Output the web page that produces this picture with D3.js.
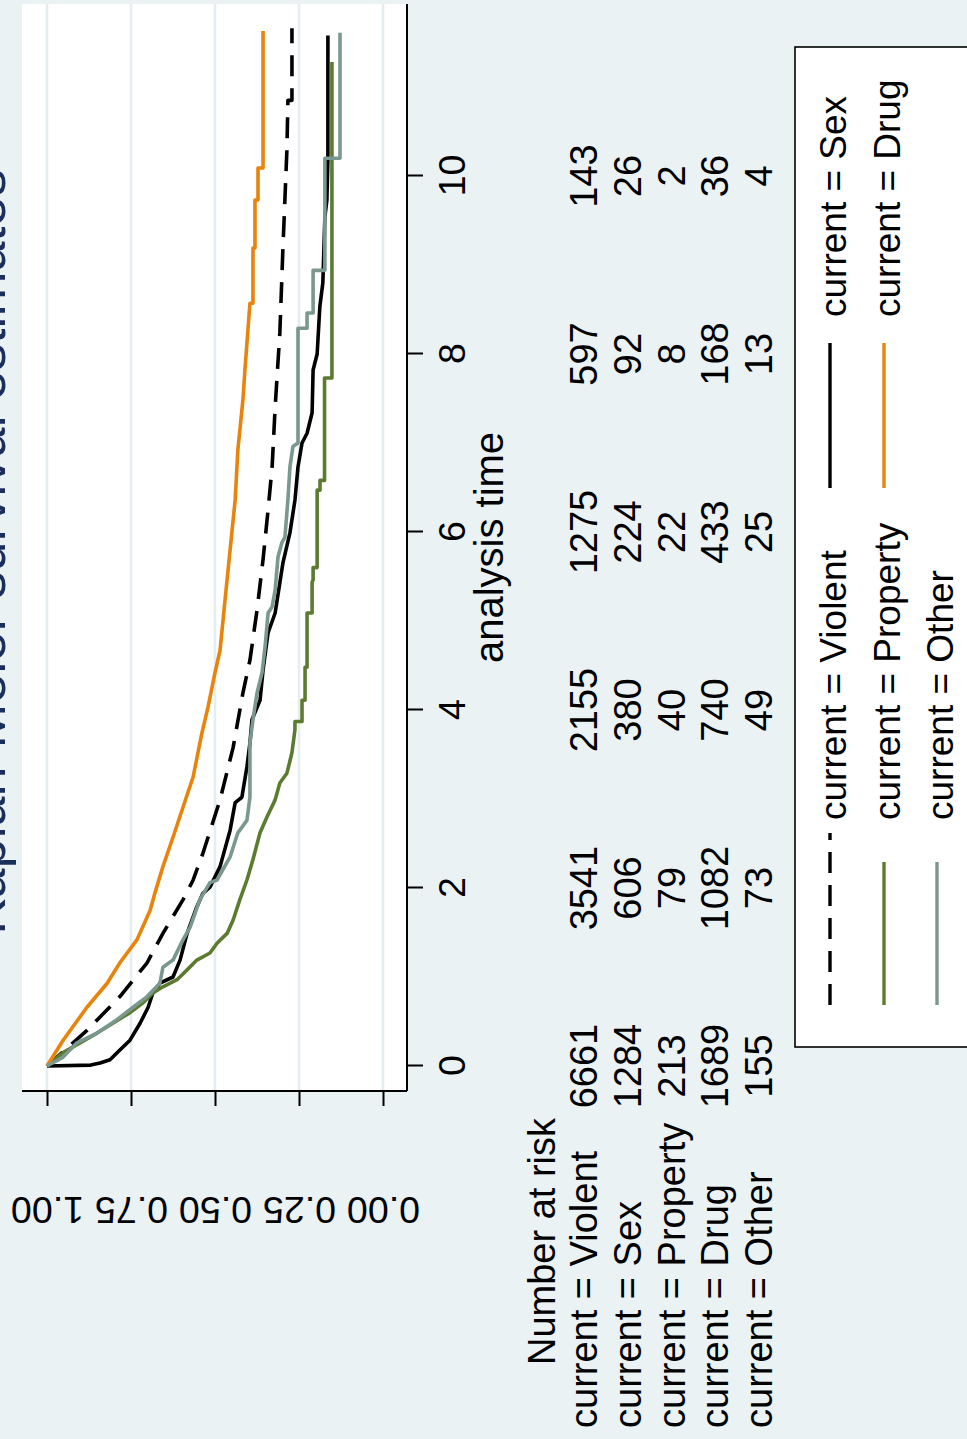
<!DOCTYPE html>
<html>
<head>
<meta charset="utf-8">
<script src="https://cdn.jsdelivr.net/npm/d3@7"></script>
<style>
  body { margin: 0; background: #eaf2f3; }
  text { font-family: "Liberation Sans", Arial, sans-serif; fill: #000; }
</style>
</head>
<body>
<div id="chart"></div>
<script>
// Stata KM plot, drawn upright then turned a quarter turn to match the picture

const timeTicks = [0, 2, 4, 6, 8, 10]
const survTicks = [0, 0.25, 0.5, 0.75, 1]
const groupNames = ["Violent", "Sex", "Property", "Drug", "Other"]

// number at risk at each time tick
const riskTimes = [0, 2, 4, 6, 8, 10]
const riskViolent = [6661, 3541, 2155, 1275, 597, 143]
const riskSex = [1284, 606, 380, 224, 92, 26]
const riskProperty = [213, 79, 40, 22, 8, 2]
const riskDrug = [1689, 1082, 740, 433, 168, 36]
const riskOther = [155, 73, 49, 25, 13, 4]

// [analysis time, survival]
const kmViolent = [[0,1],[0.40,0.881],[0.78,0.783],[1.16,0.702],[1.49,0.655],[1.87,0.595],[2.09,0.565],
  [2.39,0.536],[2.99,0.485],[3.58,0.446],[4.19,0.417],[4.56,0.396],[5.12,0.375],[5.69,0.357],[6.25,0.342],
  [6.73,0.330],[7.40,0.321],[8.24,0.307],[9.17,0.298],[9.73,0.292],[10.29,0.286],[10.85,0.283],
  [10.85,0.271],[11.66,0.271]]
const kmSex = [[0,1],[0.01,0.87],[0.034,0.842],[0.07,0.8125],[0.18,0.783],[0.29,0.753],[0.48,0.723],
  [0.66,0.699],[0.82,0.685],[0.93,0.664],[1.0,0.625],[1.19,0.604],[1.49,0.583],[1.79,0.554],[1.94,0.536],
  [2.01,0.515],[2.24,0.485],[2.65,0.455],[2.96,0.440],[3.02,0.420],[3.36,0.405],[3.63,0.396],[3.89,0.390],
  [4.11,0.366],[4.45,0.357],[4.87,0.342],[5.09,0.321],[5.43,0.307],[5.65,0.298],[5.99,0.277],[6.36,0.262],
  [6.73,0.253],[7.0,0.241],[7.11,0.226],[7.34,0.211],[7.82,0.208],[8.0,0.196],[8.53,0.188],[8.80,0.179],
  [9.54,0.173],[9.73,0.167],[10.18,0.164],[11.58,0.164]]
const kmProperty = [[0,1],[0.15,0.952],[0.26,0.902],[0.37,0.851],[0.48,0.804],[0.60,0.753],[0.71,0.714],
  [0.82,0.685],[0.89,0.655],[0.97,0.613],[1.08,0.583],[1.19,0.554],[1.27,0.515],[1.38,0.494],[1.49,0.464],
  [1.64,0.446],[1.87,0.426],[2.09,0.405],[2.32,0.387],[2.62,0.366],[2.80,0.345],[2.99,0.321],[3.18,0.307],
  [3.29,0.286],[3.52,0.271],[3.78,0.262],[3.87,0.262],[3.87,0.241],[4.11,0.241],[4.11,0.232],[4.48,0.232],
  [4.48,0.226],[5.09,0.226],[5.09,0.211],[5.44,0.211],[5.46,0.208],[5.60,0.208],[5.60,0.196],[6.47,0.196],
  [6.47,0.1875],[6.58,0.1875],[6.58,0.174],[7.73,0.174],[7.73,0.152],[11.28,0.152]]
const kmDrug = [[0,1],[0.29,0.952],[0.66,0.881],[0.93,0.821],[1.16,0.783],[1.42,0.732],[1.75,0.693],
  [1.94,0.679],[2.24,0.655],[2.57,0.625],[2.91,0.595],[3.25,0.565],[3.74,0.539],[4.03,0.521],[4.42,0.5],
  [4.67,0.485],[5.24,0.470],[5.80,0.455],[6.36,0.440],[6.92,0.432],[7.48,0.417],[7.82,0.411],[8.57,0.396],
  [8.57,0.387],[9.19,0.387],[9.19,0.381],[9.73,0.381],[9.73,0.372],[10.09,0.372],[10.09,0.357],[11.63,0.357]]
const kmOther = [[0,1],[0.10,0.952],[0.26,0.911],[0.37,0.851],[0.52,0.792],[0.66,0.744],[0.78,0.702],
  [0.93,0.664],[1.11,0.655],[1.19,0.625],[1.42,0.595],[1.56,0.574],[1.87,0.545],[2.06,0.515],[2.09,0.494],
  [2.35,0.455],[2.62,0.432],[2.76,0.405],[3.02,0.396],[3.63,0.396],[3.89,0.387],[4.19,0.375],[4.42,0.360],
  [4.71,0.351],[5.09,0.342],[5.16,0.330],[5.35,0.321],[5.72,0.3125],[5.88,0.301],[5.94,0.292],[6.36,0.283],
  [6.73,0.277],[6.96,0.268],[7.0,0.253],[8.29,0.253],[8.29,0.226],[8.46,0.226],[8.46,0.208],[8.94,0.208],
  [8.94,0.173],[10.20,0.173],[10.20,0.128],[11.61,0.128]]

const W = 967, H = 1439

const series = [
  { name: "Violent", data: kmViolent, color: "#000", dash: "21,12" },
  { name: "Sex", data: kmSex, color: "#000", dash: null },
  { name: "Property", data: kmProperty, color: "#5b7b30", dash: null },
  { name: "Drug", data: kmDrug, color: "#e8830c", dash: null },
  { name: "Other", data: kmOther, color: "#7a9890", dash: null }
]
const riskRows = [riskViolent, riskSex, riskProperty, riskDrug, riskOther]

const svg = d3.select("#chart").append("svg")
  .attr("width", W).attr("height", H)

svg.append("rect").attr("width", W).attr("height", H).attr("fill", "#eaf2f3")

// unrotated graph is H wide and W tall
const g = svg.append("g").attr("transform", `translate(0,${H}) rotate(-90)`)

const plotL = 348, plotR = 1435, plotT = 22, plotB = 407

const x = d3.scaleLinear().domain([0, 10]).range([373, 1263])
const y = d3.scaleLinear().domain([0, 1]).range([383, 47])

g.append("rect")
  .attr("x", plotL).attr("y", plotT)
  .attr("width", plotR - plotL).attr("height", plotB - plotT)
  .attr("fill", "#fff")

// gridlines
g.append("g").selectAll("line")
  .data(survTicks)
  .join("line")
  .attr("x1", plotL).attr("x2", plotR)
  .attr("y1", d => y(d)).attr("y2", d => y(d))
  .attr("stroke", "#e4eef0").attr("stroke-width", 2.5)

// curves
const line = d3.line().x(d => x(d[0])).y(d => y(d[1]))
g.append("g").selectAll("path")
  .data(series)
  .join("path")
  .attr("d", d => line(d.data))
  .attr("fill", "none")
  .attr("stroke", d => d.color)
  .attr("stroke-width", 3.6)
  .attr("stroke-linejoin", "round")
  .attr("stroke-dasharray", d => d.dash)

// axis lines
g.append("line").attr("x1", plotL).attr("x2", plotL).attr("y1", plotT).attr("y2", plotB)
  .attr("stroke", "#000").attr("stroke-width", 2)
g.append("line").attr("x1", plotL).attr("x2", plotR).attr("y1", plotB).attr("y2", plotB)
  .attr("stroke", "#000").attr("stroke-width", 2)

// x axis
const xAxis = g.append("g")
  .attr("transform", `translate(0,${plotB})`)
  .call(d3.axisBottom(x).tickValues(timeTicks).tickSize(16).tickPadding(15))
xAxis.select(".domain").remove()
xAxis.selectAll("line").attr("stroke", "#000").attr("stroke-width", 2)
xAxis.selectAll("text").style("font-size", "37.5px").attr("fill", "#000")
  .style("font-family", "Liberation Sans, Arial, sans-serif")

// y axis, labels turned like Stata's default
const yAxis = g.append("g")
  .attr("transform", `translate(${plotL},0)`)
  .call(d3.axisLeft(y).tickValues(survTicks).tickSize(15).tickFormat(d3.format(".2f")))
yAxis.select(".domain").remove()
yAxis.selectAll("line").attr("stroke", "#000").attr("stroke-width", 2)
yAxis.selectAll("text")
  .attr("x", null).attr("dy", null)
  .attr("transform", `translate(${242 - plotL},0) rotate(-90)`)
  .attr("text-anchor", "middle")
  .attr("fill", "#000")
  .style("font-size", "37.5px")
  .style("font-family", "Liberation Sans, Arial, sans-serif")

// titles
g.append("text")
  .attr("x", 887).attr("y", 5)
  .attr("text-anchor", "middle")
  .style("font-size", "54px")
  .style("fill", "#1b2f5b")
  .text("Kaplan-Meier survival estimates")

g.append("text")
  .attr("x", (plotL + plotR) / 2).attr("y", 503)
  .attr("text-anchor", "middle")
  .style("font-size", "40px")
  .text("analysis time")

// number at risk table
const rowY = [597, 641, 685, 728, 772]
g.append("text")
  .attr("x", 321).attr("y", 555)
  .attr("text-anchor", "end")
  .style("font-size", "38px")
  .text("Number at risk")

groupNames.forEach(function (name, i) {
  g.append("text")
    .attr("x", 11).attr("y", rowY[i])
    .style("font-size", "38px")
    .text("current = " + name)
  g.append("g").selectAll("text")
    .data(riskRows[i])
    .join("text")
    .attr("x", (d, j) => x(riskTimes[j]))
    .attr("y", rowY[i])
    .attr("text-anchor", "middle")
    .style("font-size", "38px")
    .text(d => d)
})

// legend
const leg = g.append("g")
leg.append("rect")
  .attr("x", 392).attr("y", 795)
  .attr("width", 1000).attr("height", 220)
  .attr("fill", "#fff").attr("stroke", "#000").attr("stroke-width", 1.6)

const legItems = [
  { s: series[0], col: 0, row: 0 },
  { s: series[1], col: 1, row: 0 },
  { s: series[2], col: 0, row: 1 },
  { s: series[3], col: 1, row: 1 },
  { s: series[4], col: 0, row: 2 }
]
const legBase = [846, 900, 953]
const colKey = [434, 951], colText = [619, 1122]

legItems.forEach(function (it) {
  const yy = legBase[it.row]
  const len = it.s.dash ? 172 : (it.col === 0 ? 143 : 145)
  leg.append("line")
    .attr("x1", colKey[it.col]).attr("x2", colKey[it.col] + len)
    .attr("y1", yy - 16).attr("y2", yy - 16)
    .attr("stroke", it.s.color).attr("stroke-width", 3.4)
    .attr("stroke-dasharray", it.s.dash)
  leg.append("text")
    .attr("x", colText[it.col]).attr("y", yy)
    .style("font-size", "37px")
    .text("current = " + it.s.name)
})
</script>
</body>
</html>
